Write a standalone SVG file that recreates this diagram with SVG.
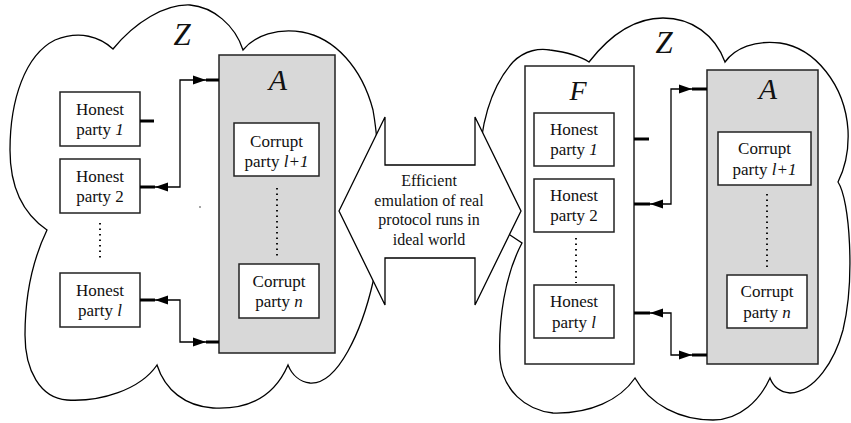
<svg xmlns="http://www.w3.org/2000/svg" width="851" height="423" viewBox="0 0 851 423">
  <style>
    .cloud { fill: #ffffff; stroke: #000; stroke-width: 1.3; stroke-linejoin: miter; }
    .box { fill: #ffffff; stroke: #222; stroke-width: 1.5; }
    .adv { fill: #d8d8d8; stroke: #222; stroke-width: 1.5; }
    .label { font-family: "Liberation Serif", "Times New Roman", serif; font-size: 17px; fill: #111; text-anchor: middle; }
    .note { font-family: "Liberation Serif", "Times New Roman", serif; font-size: 16px; fill: #111; text-anchor: middle; }
    .script { font-family: "Liberation Serif", "DejaVu Serif", serif; font-style: italic; fill: #111; text-anchor: middle; }
    .it { font-style: italic; }
    .stub { stroke: #000; stroke-width: 3; fill: none; }
    .wire { stroke: #000; stroke-width: 1.3; fill: none; marker-start: url(#head); marker-end: url(#head); }
    .dots { stroke: #111; stroke-width: 2; stroke-dasharray: 1.6 3.9; fill: none; }
  </style>
  <defs>
    <marker id="head" markerUnits="userSpaceOnUse" markerWidth="14" markerHeight="10" refX="13" refY="5" orient="auto-start-reverse">
      <path d="M0,0.5 L13,5 L0,9.5 Z" fill="#000"/>
    </marker>
  </defs>

  <rect width="851" height="423" fill="#ffffff"/>

  <!-- environment Z, real world -->
  <g id="cloud-real">
    <path class="cloud" d="M113,49 C135,22 165,4 190,5 C213,7 235,25 243,50 C255,35 278,28 302,32 C335,38 362,68 373,110 C380,150 384,240 373,282 C362,330 338,385 310,383 C300,382 292,375 288,365 C275,395 250,410 213,408 C185,406 165,390 157,365 C140,390 100,402 67,400 C40,398 25,370 25,335 C25,290 35,255 47,230 C25,215 10,190 10,150 C10,100 25,55 55,40 C80,30 100,37 113,49 Z"/>
    <text class="script" x="182" y="45" font-size="31">Z</text>
    <circle cx="200" cy="207" r="0.8" fill="#333"/>
  </g>

  <!-- environment Z, ideal world -->
  <g id="cloud-ideal">
    <path class="cloud" d="M589,62 C610,35 635,18 663,18 C692,18 715,35 725,62 C735,48 755,40 780,43 C815,48 845,85 848,130 C849,150 845,168 838,182 C850,200 855,280 843,330 C835,360 815,392 790,393 C780,392 773,386 770,378 C760,400 740,420 713,420 C680,420 650,405 635,378 C620,400 590,414 553,413 C525,410 503,390 500,360 C498,320 505,275 522,243 L510,235 C495,225 478,200 479,170 C480,130 488,90 513,62 C525,50 540,48 550,50 C565,52 580,56 589,62 Z"/>
    <text class="script" x="664" y="53" font-size="31">Z</text>
  </g>

  <!-- two-way emulation arrow -->
  <g id="emulation">
    <polygon points="339,211 385,117 385,165 475,165 475,117 521,211 475,305 475,258 385,258 385,305" fill="#ffffff" stroke="#000" stroke-width="1.3" stroke-linejoin="miter"/>
    <text class="note" x="429" y="186">Efficient</text>
    <text class="note" x="429" y="205.5">emulation of real</text>
    <text class="note" x="429" y="225">protocol runs in</text>
    <text class="note" x="429" y="244.5">ideal world</text>
  </g>

  <!-- real world parties -->
  <g id="honest-1-real">
    <rect class="box" x="60" y="92" width="80" height="54"/>
    <text class="label" x="100" y="114.5">Honest</text>
    <text class="label" x="100" y="135">party <tspan class="it">1</tspan></text>
  </g>
  <g id="honest-2-real">
    <rect class="box" x="60" y="159" width="80" height="54"/>
    <text class="label" x="100" y="181.5">Honest</text>
    <text class="label" x="100" y="202">party 2</text>
  </g>
  <path class="dots" d="M100,223 V261"/>
  <g id="honest-l-real">
    <rect class="box" x="60" y="273" width="80" height="54"/>
    <text class="label" x="100" y="295.5">Honest</text>
    <text class="label" x="100" y="316">party <tspan class="it">l</tspan></text>
  </g>

  <g id="adversary-real">
    <rect class="adv" x="219" y="55" width="116" height="298"/>
    <text class="script" x="278" y="90" font-size="30">A</text>
    <g id="corrupt-l1-real">
      <rect class="box" x="234" y="123" width="85" height="53"/>
      <text class="label" x="276.5" y="147">Corrupt</text>
      <text class="label" x="276.5" y="167">party <tspan class="it">l+1</tspan></text>
    </g>
    <path class="dots" d="M277,188 V257"/>
    <g id="corrupt-n-real">
      <rect class="box" x="239" y="264" width="80" height="54"/>
      <text class="label" x="279" y="287">Corrupt</text>
      <text class="label" x="279" y="307">party <tspan class="it">n</tspan></text>
    </g>
  </g>

  <!-- ideal world parties -->
  <g id="functionality">
    <rect class="box" x="525" y="66" width="109" height="298"/>
    <text class="script" x="578" y="100" font-size="28">F</text>
    <g id="honest-1-ideal">
      <rect class="box" x="534" y="113" width="80" height="53"/>
      <text class="label" x="574" y="134.5">Honest</text>
      <text class="label" x="574" y="155">party <tspan class="it">1</tspan></text>
    </g>
    <g id="honest-2-ideal">
      <rect class="box" x="534" y="179" width="80" height="53"/>
      <text class="label" x="574" y="200.5">Honest</text>
      <text class="label" x="574" y="221">party 2</text>
    </g>
    <path class="dots" d="M576,238 V283"/>
    <g id="honest-l-ideal">
      <rect class="box" x="534" y="285" width="80" height="53"/>
      <text class="label" x="574" y="307">Honest</text>
      <text class="label" x="574" y="328">party <tspan class="it">l</tspan></text>
    </g>
  </g>

  <g id="adversary-ideal">
    <rect class="adv" x="707" y="70" width="111" height="294"/>
    <text class="script" x="768" y="99" font-size="30">A</text>
    <g id="corrupt-l1-ideal">
      <rect class="box" x="718" y="132" width="93" height="53"/>
      <text class="label" x="764.5" y="154">Corrupt</text>
      <text class="label" x="764.5" y="175">party <tspan class="it">l+1</tspan></text>
    </g>
    <path class="dots" d="M767,194 V270"/>
    <g id="corrupt-n-ideal">
      <rect class="box" x="727" y="275" width="80" height="53"/>
      <text class="label" x="767" y="297">Corrupt</text>
      <text class="label" x="767" y="318">party <tspan class="it">n</tspan></text>
    </g>
  </g>

  <!-- connectors -->
  <g id="connectors">
    <path class="stub" d="M140,121 H154"/>
    <path class="stub" d="M140,187 H155"/>
    <path class="stub" d="M140,300 H155"/>
    <path class="stub" d="M206,80 H219"/>
    <path class="stub" d="M206,342 H219"/>
    <path class="wire" d="M155,187 H180 V80 H206"/>
    <path class="wire" d="M155,300 H180 V342 H206"/>

    <path class="stub" d="M634,139 H649"/>
    <path class="stub" d="M634,204 H650"/>
    <path class="stub" d="M634,313 H650"/>
    <path class="stub" d="M692,89 H707"/>
    <path class="stub" d="M692,355 H707"/>
    <path class="wire" d="M650,204 H671 V89 H692"/>
    <path class="wire" d="M650,313 H671 V355 H692"/>
  </g>
</svg>
